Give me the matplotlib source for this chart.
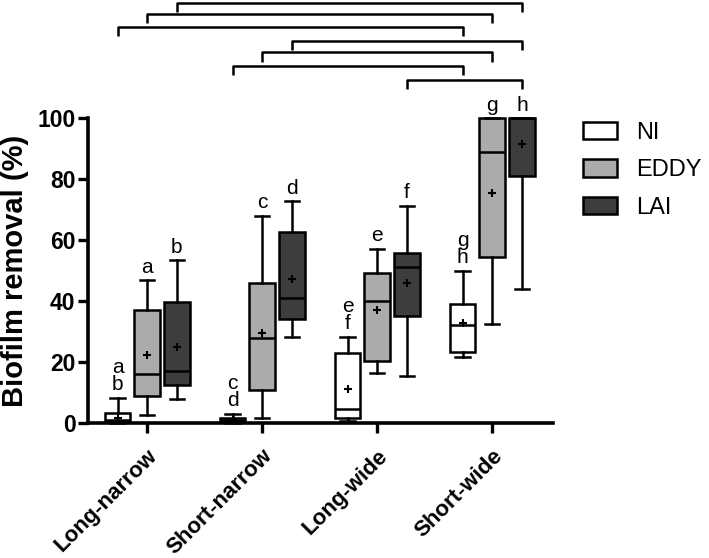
import matplotlib.pyplot as plt
from matplotlib.patches import Patch

plt.rcParams['font.family'] = ['Liberation Sans', 'DejaVu Sans']

groups = ['Long-narrow', 'Short-narrow', 'Long-wide', 'Short-wide']
treatments = ['NI', 'EDDY', 'LAI']
fills = ['white', '#ababab', '#3d3d3d']

# rows: NI, EDDY, LAI ; columns: groups
whislo = [[0.0, 0.0, 0.5, 21.5],
          [2.7, 1.5, 16.5, 32.5],
          [8.0, 28.3, 15.4, 44.0]]
q1 = [[0.5, 0.5, 1.5, 23.4],
      [9.0, 10.8, 20.3, 54.4],
      [12.4, 34.2, 35.0, 81.0]]
med = [[1.0, 1.0, 4.6, 32.0],
       [16.0, 28.0, 40.0, 89.0],
       [17.0, 41.0, 51.0, 100.0]]
q3 = [[3.2, 1.8, 23.0, 39.0],
      [37.0, 46.0, 49.3, 100.0],
      [39.8, 62.6, 55.7, 100.0]]
whishi = [[8.3, 3.0, 28.3, 50.0],
          [46.8, 67.9, 57.2, 100.0],
          [53.3, 72.8, 71.2, 100.0]]
means = [[1.6, 1.0, 11.2, 32.9],
         [22.3, 29.5, 37.0, 75.5],
         [24.9, 47.2, 46.0, 91.5]]

# significance letters above each box (stacked letters read top to bottom)
letters = [['ab', 'cd', 'ef', 'gh'],
           ['a', 'c', 'e', 'g'],
           ['b', 'd', 'f', 'h']]

# brackets: (group, treatment) -> (group, treatment), height
brackets = [((0, 2), (3, 2), 137.8),
            ((0, 1), (3, 1), 134.0),
            ((0, 0), (3, 0), 130.0),
            ((1, 2), (3, 2), 125.3),
            ((1, 1), (3, 1), 121.5),
            ((1, 0), (3, 0), 117.0),
            ((2, 2), (3, 2), 112.5)]

offsets = [-0.255, 0.0, 0.26]
lw = 1.8

fig = plt.figure(figsize=(7.09, 5.58), dpi=100)
ax = fig.add_axes([0.1241, 0.2419, 0.6558, 0.5466])

for t in range(3):
    stats = []
    for g in range(4):
        stats.append(dict(whislo=whislo[t][g], q1=q1[t][g], med=med[t][g],
                          q3=q3[t][g], whishi=whishi[t][g], mean=means[t][g]))
    pos = [g + offsets[t] for g in range(4)]
    parts = ax.bxp(stats, positions=pos, widths=0.22, capwidths=0.125,
                   showmeans=True, showfliers=False, patch_artist=True,
                   boxprops=dict(facecolor=fills[t], edgecolor='black', linewidth=lw),
                   medianprops=dict(color='black', linewidth=lw),
                   whiskerprops=dict(color='black', linewidth=lw),
                   capprops=dict(color='black', linewidth=lw),
                   meanprops=dict(marker='+', markeredgecolor='black',
                                  markersize=6, markeredgewidth=1.5),
                   manage_ticks=False)
    for key in parts:
        for art in parts[key]:
            art.set_clip_on(False)
    for g in range(4):
        x = g + offsets[t]
        chars = letters[t][g]
        for k, ch in enumerate(reversed(chars)):
            ax.annotate(ch, (x, whishi[t][g]), xytext=(0, 2.5 + 12.5 * k),
                        textcoords='offset points', ha='center', va='bottom',
                        fontsize=15, annotation_clip=False)

for (g1, t1), (g2, t2), y in brackets:
    x1 = g1 + offsets[t1]
    x2 = g2 + offsets[t2]
    ax.plot([x1, x1, x2, x2], [y - 3, y, y, y - 3], color='black',
            linewidth=lw, clip_on=False, solid_capstyle='butt')

ax.set_xlim(-0.513, 3.53)
ax.set_ylim(0, 100)
ax.set_yticks([0, 20, 40, 60, 80, 100])
ax.set_xticks(range(4))
ax.set_xticklabels(groups, rotation=45, ha='right', rotation_mode='anchor',
                   fontsize=16, fontweight='bold')
for lab in ax.get_yticklabels():
    lab.set_fontsize(16.5)
    lab.set_fontweight('bold')
ax.tick_params(axis='both', width=2.4, length=7, direction='out')
ax.tick_params(axis='y', pad=2)
ax.tick_params(axis='x', pad=9)
for side in ['top', 'right']:
    ax.spines[side].set_visible(False)
for side in ['left', 'bottom']:
    ax.spines[side].set_linewidth(2.6)
ax.set_axisbelow(False)

ax.set_ylabel('Biofilm removal (%)', fontsize=21, fontweight='bold')
ax.yaxis.set_label_coords(-0.127, 0.5)

handles = [Patch(facecolor=fills[t], edgecolor='black', linewidth=lw)
           for t in range(3)]
fig.legend(handles, treatments, loc='upper left',
           bbox_to_anchor=(583 / 709, 1 - 122 / 558), frameon=False,
           fontsize=17, handlelength=1.45, handleheight=0.75,
           handletextpad=0.8, labelspacing=0.65, borderpad=0, borderaxespad=0)

fig.savefig('out.png', dpi=100)
